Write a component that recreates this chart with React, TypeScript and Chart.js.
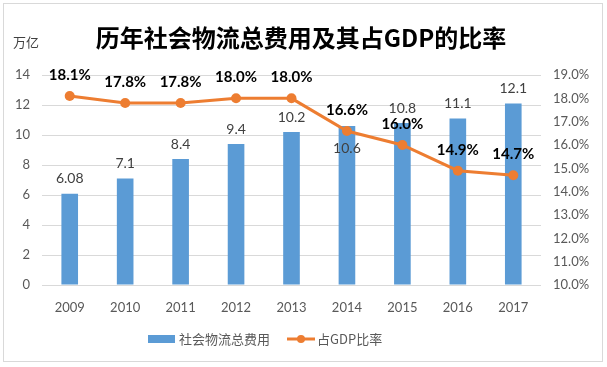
import React, { useEffect, useRef } from "react";
import { Chart, registerables } from "chart.js";

Chart.register(...registerables);

const years = ["2009", "2010", "2011", "2012", "2013", "2014", "2015", "2016", "2017"];
const costValues = [6.08, 7.1, 8.4, 9.4, 10.2, 10.6, 10.8, 11.1, 12.1];
const ratioValues = [18.1, 17.8, 17.8, 18.0, 18.0, 16.6, 16.0, 14.9, 14.7];
const costLabelInside = [false, false, false, false, false, true, false, false, false];
const titleText = "历年社会物流总费用及其占GDP的比率";
const unitText = "万亿";
const costName = "社会物流总费用";
const ratioName = "占GDP比率";

const BLUE = "#5B9BD5";
const ORANGE = "#ED7D31";
const LATIN = 'Lato, "Noto Sans CJK SC", sans-serif';
const CJK = '"Noto Sans CJK SC", sans-serif';

const drawPlugin = {
  id: "customDraw",
  beforeDraw(chart: any) {
    const ctx = chart.ctx;
    ctx.save();
    ctx.fillStyle = "#fff";
    ctx.fillRect(0, 0, chart.width, chart.height);
    ctx.strokeStyle = "#D9D9D9";
    ctx.lineWidth = 1;
    ctx.strokeRect(3.5, 3.5, 599, 358);
    ctx.restore();
  },
  afterDatasetsDraw(chart: any) {
    const ctx = chart.ctx;
    const barMeta = chart.getDatasetMeta(0);
    const lineMeta = chart.getDatasetMeta(1);
    ctx.save();
    ctx.textAlign = "center";
    ctx.textBaseline = "middle";
    ctx.font = "14px " + LATIN;
    ctx.fillStyle = "#404040";
    barMeta.data.forEach((el: any, i: number) => {
      const y = costLabelInside[i] ? el.y + 22 : el.y - 15;
      ctx.fillText(String(costValues[i]), el.x, y);
    });
    ctx.font = "bold 15px " + LATIN;
    ctx.fillStyle = "#000";
    lineMeta.data.forEach((el: any, i: number) => {
      ctx.fillText(ratioValues[i].toFixed(1) + "%", el.x, el.y - 21);
    });
    ctx.restore();
  },
  afterDraw(chart: any) {
    const ctx = chart.ctx;
    ctx.save();
    ctx.textAlign = "center";
    ctx.textBaseline = "middle";
    ctx.fillStyle = "#000";
    ctx.font = "bold 24px " + CJK;
    ctx.fillText(titleText, 301, 38);
    ctx.textAlign = "left";
    ctx.fillStyle = "#404040";
    ctx.font = "13px " + CJK;
    ctx.fillText(unitText, 13, 42);
    const ly = 339;
    ctx.fillStyle = BLUE;
    ctx.fillRect(148, ly - 4, 27, 8);
    ctx.fillStyle = "#595959";
    ctx.font = "13px " + CJK;
    ctx.fillText(costName, 179, ly);
    ctx.strokeStyle = ORANGE;
    ctx.lineWidth = 3;
    ctx.beginPath();
    ctx.moveTo(287, ly);
    ctx.lineTo(315, ly);
    ctx.stroke();
    ctx.fillStyle = ORANGE;
    ctx.beginPath();
    ctx.arc(301, ly, 4, 0, Math.PI * 2);
    ctx.fill();
    ctx.fillStyle = "#595959";
    ctx.fillText(ratioName, 317, ly);
    ctx.restore();
  },
};

export default function App() {
  const ref = useRef<HTMLCanvasElement | null>(null);
  useEffect(() => {
    document.body.style.margin = "0";
    const canvas = ref.current;
    if (!canvas) return;
    const chart = new Chart(canvas, {
      type: "bar",
      data: {
        labels: years,
        datasets: [
          {
            type: "bar",
            label: costName,
            data: costValues,
            backgroundColor: BLUE,
            barPercentage: 0.3,
            categoryPercentage: 1.0,
            yAxisID: "y",
            order: 1,
          },
          {
            type: "line",
            label: ratioName,
            data: ratioValues,
            borderColor: ORANGE,
            backgroundColor: ORANGE,
            borderWidth: 3,
            pointRadius: 5,
            pointBorderWidth: 0,
            pointBackgroundColor: ORANGE,
            tension: 0,
            yAxisID: "y1",
            order: 0,
          } as any,
        ],
      },
      options: {
        responsive: false,
        animation: false,
        layout: { padding: { top: 75, bottom: 0, left: 0, right: 0 } },
        plugins: {
          legend: { display: false },
          title: { display: false },
          tooltip: { enabled: false },
        },
        scales: {
          x: {
            grid: { display: false },
            border: { display: false },
            ticks: { color: "#595959", font: { size: 13, family: LATIN }, padding: 7 },
            afterFit: (s: any) => {
              s.height = 82;
            },
          },
          y: {
            position: "left",
            min: 0,
            max: 14,
            ticks: { stepSize: 2, color: "#595959", font: { size: 13, family: LATIN }, padding: 12 },
            grid: { color: "#D9D9D9", drawTicks: false },
            border: { display: false },
            afterFit: (s: any) => {
              s.width = 42;
            },
          },
          y1: {
            position: "right",
            min: 10,
            max: 19,
            ticks: {
              stepSize: 1,
              color: "#595959",
              font: { size: 13, family: LATIN },
              padding: 12,
              callback: (v: any) => Number(v).toFixed(1) + "%",
            },
            grid: { display: false, drawTicks: false },
            border: { display: false },
            afterFit: (s: any) => {
              s.width = 66;
            },
          },
        },
      },
      plugins: [drawPlugin],
    } as any);
    return () => chart.destroy();
  }, []);
  return (
    <div style={{ width: 607, height: 367 }}>
      <canvas ref={ref} width={607} height={367} style={{ display: "block" }} />
    </div>
  );
}
